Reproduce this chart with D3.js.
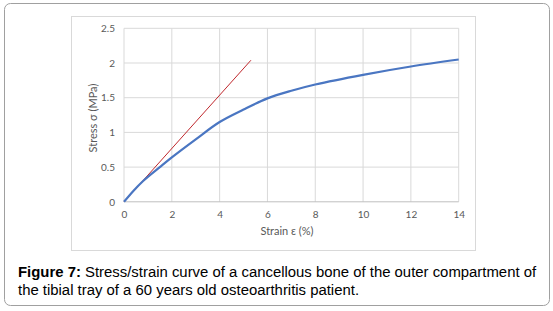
<!DOCTYPE html>
<html>
<head>
<meta charset="utf-8">
<script src="https://cdn.jsdelivr.net/npm/d3@7"></script>
<style>
  body { margin: 0; background: #fff; }
  .tick text { fill: #595959; font-family: Lato, "Open Sans", sans-serif; font-size: 10px; }
  .caption { font-family: "Liberation Sans", Arial, sans-serif; font-size: 14.9px; fill: #000; }
</style>
</head>
<body>
<div id="chart"></div>
<script>
const width = 553
const height = 311

// datos
const strain = [0, 0.4, 0.8, 1.5, 2, 3, 4, 5, 6, 7, 8, 10, 12, 14]
const stress = [0, 0.16, 0.3, 0.5, 0.64, 0.9, 1.15, 1.33, 1.49, 1.6, 1.69, 1.83, 1.95, 2.05]
const lineStrain = [0, 5.31]
const lineStress = [0, 2.04]
const xTicks = [0, 2, 4, 6, 8, 10, 12, 14]
const yTicks = [0, 0.5, 1, 1.5, 2, 2.5]

const margin = { top: 28.3, bottom: 311 - 201.8, left: 124, right: 553 - 458.7 }

const svg = d3.select("div#chart")
  .append("svg")
  .attr("width", width)
  .attr("height", height)

// marco exterior redondeado
svg.append("rect")
  .attr("x", 4.5).attr("y", 3.5)
  .attr("width", 545).attr("height", 302)
  .attr("rx", 6)
  .attr("fill", "#fff")
  .attr("stroke", "#a0a0a0")

// caja del grafico
svg.append("rect")
  .attr("x", 71.5).attr("y", 16.5)
  .attr("width", 404).attr("height", 234)
  .attr("fill", "#fff")
  .attr("stroke", "#d9d9d9")

const x = d3.scaleLinear().domain([0, 14]).range([margin.left, width - margin.right])
const y = d3.scaleLinear().domain([0, 2.5]).range([height - margin.bottom, margin.top])

// rejilla
const grid = svg.append("g").attr("id", "grid")
grid.selectAll("line.v").data(xTicks)
  .join("line")
  .attr("class", "v")
  .attr("x1", d => x(d)).attr("x2", d => x(d))
  .attr("y1", y(0)).attr("y2", y(2.5))
  .attr("stroke", "#d9d9d9")
  .attr("stroke-width", 1)
grid.selectAll("line.h").data(yTicks)
  .join("line")
  .attr("class", "h")
  .attr("x1", x(0)).attr("x2", x(14))
  .attr("y1", d => y(d)).attr("y2", d => y(d))
  .attr("stroke", d => d === 0 ? "#bfbfbf" : "#d9d9d9")
  .attr("stroke-width", 1)

// ejes (solo etiquetas)
const xAxis = d3.axisBottom(x).tickValues(xTicks).tickSize(0).tickPadding(9)
const yAxis = d3.axisLeft(y).tickValues(yTicks).tickSize(0).tickPadding(9)
  .tickFormat(d => String(d))

svg.append("g")
  .attr("transform", `translate(0, ${y(0)})`)
  .call(xAxis)
  .call(g => g.select(".domain").remove())
svg.append("g")
  .attr("transform", `translate(${x(0)}, 0)`)
  .call(yAxis)
  .call(g => g.select(".domain").remove())

// titulos de ejes
svg.append("text")
  .attr("x", 287).attr("y", 234.5)
  .attr("text-anchor", "middle")
  .attr("fill", "#595959")
  .style("font-family", "Lato, sans-serif")
  .style("font-size", "11px")
  .text("Strain ε (%)")

svg.append("text")
  .attr("transform", `translate(97, 118) rotate(-90)`)
  .attr("text-anchor", "middle")
  .attr("fill", "#595959")
  .style("font-family", "Lato, sans-serif")
  .style("font-size", "11px")
  .text("Stress σ (MPa)")

// recta roja (modulo)
const lineData = lineStrain.map((s, i) => ({ s: s, v: lineStress[i] }))
svg.append("path")
  .datum(lineData)
  .attr("fill", "none")
  .attr("stroke", "#c0282d")
  .attr("stroke-width", 1)
  .attr("d", d3.line().x(d => x(d.s)).y(d => y(d.v)))

// curva
const curveData = strain.map((s, i) => ({ s: s, v: stress[i] }))
svg.append("path")
  .datum(curveData)
  .attr("fill", "none")
  .attr("stroke", "#4a76c2")
  .attr("stroke-width", 2.2)
  .attr("stroke-linejoin", "round")
  .attr("d", d3.line().curve(d3.curveCatmullRom.alpha(0.5)).x(d => x(d.s)).y(d => y(d.v)))

// pie de figura
const cap = svg.append("g").attr("class", "caption")
const t1 = cap.append("text").attr("class", "caption").attr("x", 18).attr("y", 277)
t1.append("tspan").style("font-weight", "bold").text("Figure 7:")
t1.append("tspan").text(" Stress/strain curve of a cancellous bone of the outer compartment of")
cap.append("text").attr("class", "caption").attr("x", 18).attr("y", 295)
  .text("the tibial tray of a 60 years old osteoarthritis patient.")
</script>
</body>
</html>
